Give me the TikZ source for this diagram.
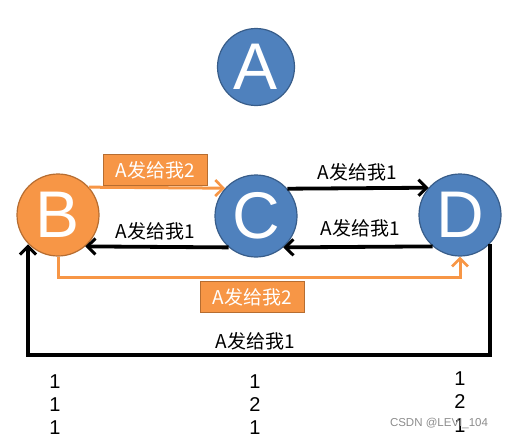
\documentclass[tikz,border=0pt]{standalone}
\usepackage{fontspec}
\setmainfont{Liberation Sans}
\newfontfamily\cjk{Noto Sans CJK SC}
\usetikzlibrary{arrows.meta}
\definecolor{orfill}{HTML}{F79646}
\definecolor{orline}{HTML}{B66D31}
\definecolor{blfill}{HTML}{4F81BD}
\definecolor{blline}{HTML}{385D8A}
\tikzset{
  bcirc/.style={circle, fill=blfill, draw=blline, line width=1.2pt, minimum size=82pt, inner sep=0pt, text=white, font=\fontsize{66}{66}\selectfont},
  ocirc/.style={bcirc, fill=orfill, draw=orline},
  blk/.style={line width=3.8pt, draw=black, -{Straight Barb[length=8pt,width=16pt,line width=3pt]}},
  org/.style={line width=3pt, draw=orfill, -{Straight Barb[length=8pt,width=16pt,line width=2.6pt]}},
  lbl/.style={font=\cjk\fontsize{19}{19}\selectfont, inner sep=0pt},
  obox/.style={lbl, fill=orfill, draw=orline, line width=1pt, text=white, minimum width=104pt, minimum height=31pt},
  num/.style={font=\fontsize{20}{20}\selectfont, inner sep=0pt},
}
\begin{document}
\begin{tikzpicture}[x=1pt,y=-1pt]
\useasboundingbox (0,0) rectangle (509,439);
\node[bcirc, minimum size=77pt] (A) at (256,67) {A};
\node[ocirc] (B) at (58,215) {B};
\node[bcirc] (C) at (256,216) {C};
\node[bcirc] (D) at (460,215) {D};
% B -> C orange
\draw[org] (B.42) -- (C.138);
\node[obox] (l1) at (155,170) {A发给我2};
% C -> B black
\draw[blk] (C.-131) -- (B.-49);
\node[lbl] (l2) at (155,231) {A发给我1};
% C -> D
\draw[blk] (C.41) -- (D.139);
\node[lbl] (l3) at (357,172) {A发给我1};
% D -> C
\draw[blk] (D.-131) -- (C.-49);
\node[lbl] (l4) at (360,228) {A发给我1};
% B -> D orange
\coordinate (bd) at (260,277);
\draw[org] (B.south) -- (B.south |- bd) -- (D.south |- bd) -- (D.south);
\node[obox] (l5) at (252,297) {A发给我2};
% D -> B black
\coordinate (db) at (260,355);
\coordinate (dx) at (490,0);
\coordinate (bx) at (28,0);
\draw[blk] (dx |- D.-45) -- (dx |- db) -- (bx |- db) -- (bx |- B.-135);
\node[lbl] (l6) at (255,341) {A发给我1};
% numbers
\node[num] (n1) at (55,382) {1};
\node[num] (n2) at (55,405) {1};
\node[num] (n3) at (55,428) {1};
\node[num] (n4) at (255,382) {1};
\node[num] (n5) at (255,405) {2};
\node[num] (n6) at (255,428) {1};
\node[num] (n7) at (460,379) {1};
\node[num] (n8) at (460,402) {2};
\node[num] (n9) at (460,426) {1};
\node[font=\fontsize{11.5}{11.5}\selectfont, text=black!45, inner sep=0pt] (wm) at (439,423) {CSDN @LEVI\_104};
\end{tikzpicture}
\end{document}
